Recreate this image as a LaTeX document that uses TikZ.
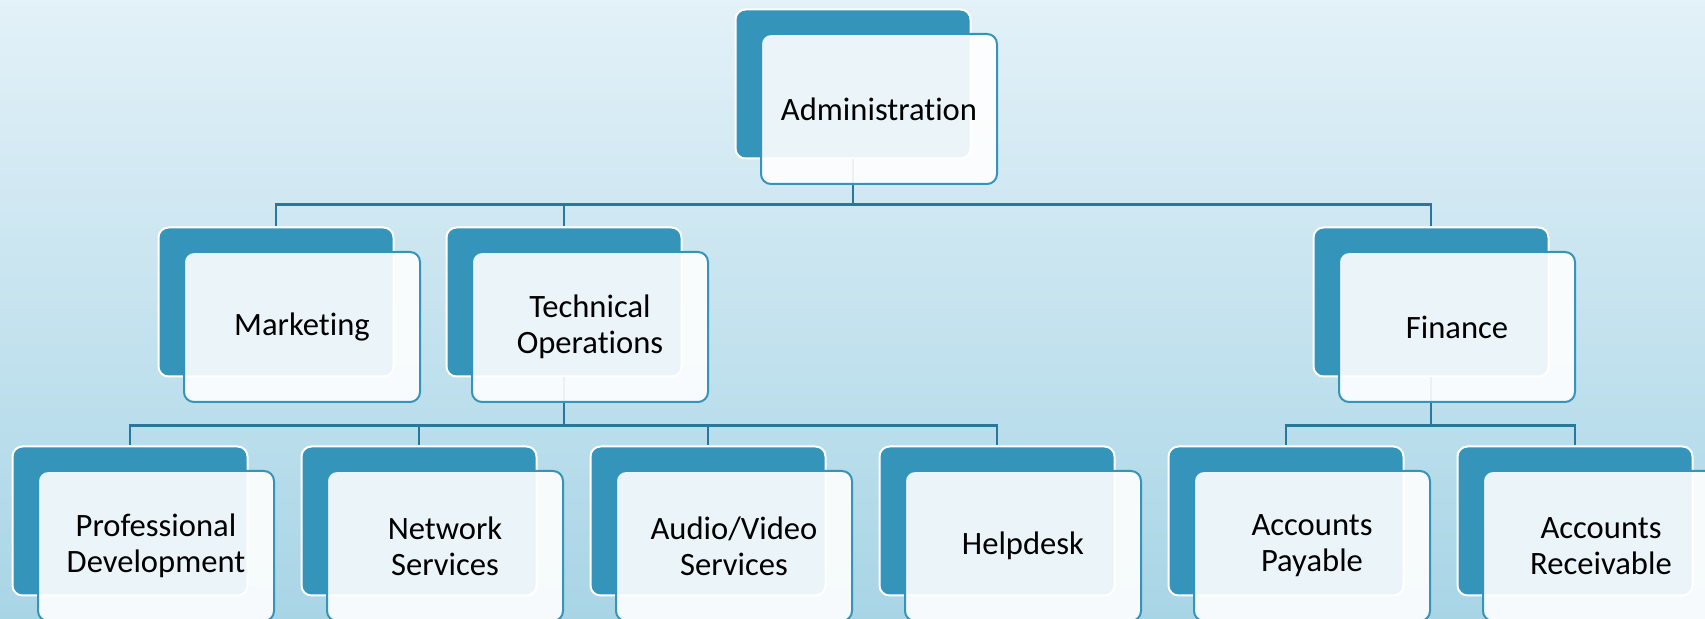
\documentclass[tikz,border=0pt]{standalone}
\usepackage{fontspec}
\setmainfont{Carlito}[RawFeature={-liga;-clig;-calt;-dlig}]
\usepackage{tikz}
\definecolor{boxblue}{RGB}{52,148,186}
\definecolor{linkblue}{RGB}{38,120,156}
\definecolor{bgtop}{RGB}{227,241,248}
\definecolor{bgbot}{RGB}{168,213,230}
\tikzset{
  backbox/.style={draw=white,line width=1pt,fill=boxblue,rounded corners=5pt,
    minimum width=117.5pt,minimum height=74.5pt,inner sep=0pt},
  frontbox/.style={draw=boxblue,line width=1pt,fill=white,fill opacity=0.9,
    text opacity=1,rounded corners=5pt,minimum width=118pt,minimum height=75pt,
    inner sep=0pt,align=center,font=\fontsize{16.3}{18}\selectfont,
    xshift=13pt,yshift=-12.5pt},
  link/.style={draw=linkblue,line width=1.2pt}
}

\begin{document}
\begin{tikzpicture}[x=0.5pt,y=-0.5pt]
\useasboundingbox (0,0) rectangle (1705,619);
\shade[top color=bgtop,bottom color=bgbot] (0,0) rectangle (1705,619);

% back boxes
\node[backbox] (adm) at (853,84) {};
\node[backbox] (mkt) at (276,302) {};
\node[backbox] (tec) at (564,302) {};
\node[backbox] (fin) at (1431,302) {};
\node[backbox] (prof) at (130,521) {};
\node[backbox] (net) at (419,521) {};
\node[backbox] (av) at (708,521) {};
\node[backbox] (help) at (997,521) {};
\node[backbox] (pay) at (1286,521) {};
\node[backbox] (rec) at (1575,521) {};

% connectors
\foreach \c in {mkt,tec,fin}
  \draw[link] (adm.south) --++(0,45) -| (\c.north);
\foreach \c in {prof,net,av,help}
  \draw[link] (tec.south) --++(0,48) -| (\c.north);
\foreach \c in {pay,rec}
  \draw[link] (fin.south) --++(0,48) -| (\c.north);

% front boxes
\node[frontbox] (adm-f) at (adm) {Administration};
\node[frontbox] (mkt-f) at (mkt) {Marketing};
\node[frontbox] (tec-f) at (tec) {Technical\\Operations};
\node[frontbox] (fin-f) at (fin) {Finance};
\node[frontbox] (prof-f) at (prof) {Professional\\Development};
\node[frontbox] (net-f) at (net) {Network\\Services};
\node[frontbox] (av-f) at (av) {Audio/Video\\Services};
\node[frontbox] (help-f) at (help) {Helpdesk};
\node[frontbox] (pay-f) at (pay) {Accounts\\Payable};
\node[frontbox] (rec-f) at (rec) {Accounts\\Receivable};
\end{tikzpicture}
\end{document}
